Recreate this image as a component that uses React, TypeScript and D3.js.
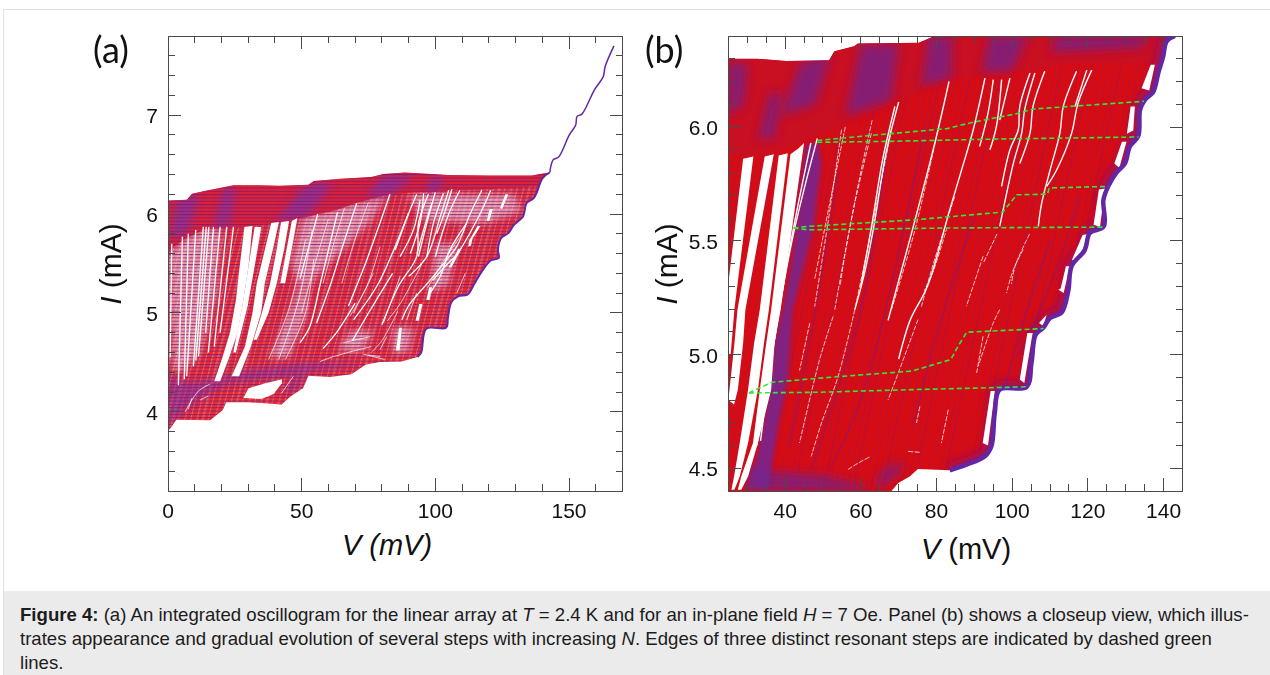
import React from 'react';
import * as d3 from 'd3';

const sans = '"Liberation Sans", Arial, sans-serif';
const purple = '#6326a4';
const tickColor = '#4a4a4a';

// panel (a)
const xMajorA = [0, 50, 100, 150];
const xMinorA = [10, 20, 30, 40, 60, 70, 80, 90, 110, 120, 130, 140, 160];
const yMajorA = [4, 5, 6, 7];
const yMinorA = [3.4, 3.6, 3.8, 4.2, 4.4, 4.6, 4.8, 5.2, 5.4, 5.6, 5.8, 6.2, 6.4, 6.6, 6.8, 7.2, 7.4, 7.6];

const upperEdgeA = [[0, 6.138], [7, 6.145], [9, 6.205], [15, 6.24], [24.5, 6.29], [33.8, 6.29], [41.8, 6.286], [52.5, 6.296], [54.5, 6.333], [64.6, 6.357], [76, 6.374], [80.6, 6.404], [88.6, 6.42], [95.3, 6.41], [104.7, 6.394], [119.4, 6.39], [136, 6.39], [141.4, 6.414], [142.8, 6.42]];
const stairEdgeA = [[142.8, 6.42], [140.1, 6.364], [138.1, 6.23], [136.8, 6.16], [134.1, 6.11], [132.8, 5.976], [129.4, 5.89], [127.4, 5.81], [124.7, 5.76], [123.4, 5.64], [123.7, 5.556], [120.7, 5.53], [117.4, 5.42], [114.7, 5.3], [112, 5.185], [108.7, 5.17], [106, 5.108], [104.7, 4.95], [104, 4.85], [96.6, 4.84], [94.7, 4.6], [93.3, 4.555]];
const lowerEdgeA = [[93.3, 4.555], [87.3, 4.51], [79.3, 4.505], [74, 4.48], [68.6, 4.38], [60.6, 4.353], [52.5, 4.366], [50.5, 4.24], [45.9, 4.158], [42.5, 4.074], [29.8, 4.098], [21.8, 4.098], [20.5, 4.02], [15.8, 3.916], [3.1, 3.92], [1.1, 3.84], [0, 3.81]];
const highBranchA = [[142.8, 6.42], [144.1, 6.55], [146.1, 6.576], [150.1, 6.8], [152.5, 6.9], [153, 6.987], [154.8, 7.01], [159.5, 7.256], [162.8, 7.39], [163.5, 7.49], [166.8, 7.7]];
const zeroBranchA = [[0, 6.14], [0, 3.2]];
const strayA = [[1, 3.42], [3, 3.39], [6, 3.32]];
const bandLowerA = [[0, 5.62], [5.7, 5.74], [13.8, 5.85], [27, 5.87], [41.8, 5.91], [48.5, 5.95], [55, 5.99], [63, 6.04], [70, 6.11], [82, 6.195], [92.6, 6.22], [114, 6.245], [138.8, 6.28]];

const bandPatchesA = [
  [[1, 5.75], [3, 6.13], [12, 6.2], [7, 5.8]],
  [[17, 5.86], [21, 6.26], [25, 6.27], [23, 5.88]],
  [[40, 5.92], [51, 6.28], [62, 6.33], [52, 5.98]],
  [[74, 6.16], [80, 6.38], [92, 6.4], [84, 6.2]],
  [[96, 6.22], [99, 6.38], [103, 6.38], [101, 6.22]],
];
const lowPatchesA = [
  [[0, 3.85], [0, 4.36], [8, 4.3], [18, 4.34], [30, 4.42], [50, 4.49], [75, 4.5], [62, 4.44], [48, 4.37], [22, 4.28], [10, 4.1]],
  [[42, 4.2], [48, 4.35], [52, 4.37], [47, 4.2]],
];
const palePatchesA = [
  [[0, 5.6], [5, 5.72], [13, 5.84], [20, 5.85], [18, 5.2], [12, 4.6], [5, 4.4], [2, 4.4]],
  [[50, 5.97], [70, 6.11], [82, 6.19], [75, 5.9], [60, 5.5], [50, 5.2], [46, 5.5]],
  [[90, 6.2], [130, 6.2], [132, 6.02], [118, 5.9], [95, 5.95]],
  [[100, 5.7], [108, 5.7], [105, 5.3], [98, 5.2]],
  [[84, 4.85], [92, 4.85], [90, 4.6], [84, 4.6]],
  [[68, 4.82], [77, 4.82], [72, 4.6], [64, 4.62]],
  [[53, 5.6], [47, 5.1], [38, 4.55], [45, 4.55], [52, 5]],
];

const gapsA = [
  [[28.6, 5.87], [31.6, 5.88], [30.1, 5.47], [28.2, 5.13], [26, 4.8], [22.6, 4.53], [19.5, 4.31], [17.3, 4.31], [20.1, 4.53], [23.2, 4.8], [25.4, 5.13], [26.8, 5.47]],
  [[32.4, 5.87], [34.9, 5.87], [32.4, 5.47], [29.8, 5.07], [25.4, 4.6], [24.4, 4.6], [27.8, 5.07], [30.1, 5.47]],
  [[38.6, 5.91], [41.5, 5.92], [39.3, 5.65], [36.2, 5.3], [34.8, 5.0], [31, 4.66], [26.6, 4.36], [23.8, 4.36], [28.8, 4.66], [31.6, 5.0], [33.2, 5.3], [36.3, 5.65]],
  [[42.3, 5.92], [45.3, 5.93], [43.5, 5.65], [40.7, 5.3], [37.6, 5.0], [33.2, 4.73], [32, 4.73], [35.1, 5.0], [38.2, 5.3], [40.7, 5.65]],
  [[46.3, 5.93], [48.4, 5.96], [46.3, 5.65], [43.8, 5.3], [42, 5.3], [44.4, 5.65]],
  [[28.2, 4.14], [30.1, 4.24], [36.4, 4.29], [42.6, 4.33], [42.6, 4.29], [39.5, 4.18], [35, 4.13]],
  [[127.3, 6.2], [126.2, 6.2], [124.2, 6.06], [125, 6.05]],
  [[121.5, 6.05], [120.3, 6.05], [119.2, 5.93], [120.2, 5.93]],
  [[116.9, 5.88], [115.8, 5.88], [112.6, 5.73], [112.3, 5.67], [113.3, 5.68], [113.9, 5.75]],
  [[109.8, 5.65], [108.6, 5.65], [105, 5.46], [106, 5.46]],
  [[98.8, 5.26], [97.7, 5.26], [96.6, 5.13], [97.8, 5.13]],
  [[95.2, 5.09], [94, 5.09], [92.6, 4.92], [93.8, 4.92]],
  [[87.5, 4.85], [86.5, 4.85], [85.2, 4.62], [86.6, 4.62]],
];
const whiteLinesA = [
  [[1.4, 5.7], [0.8, 4.55]],
  [[5.4, 5.77], [3.9, 4.27]],
  [[7.6, 5.8], [6.1, 4.33]],
  [[10.4, 5.84], [7, 4.36]],
  [[13.2, 5.87], [9.5, 4.46]],
  [[14.3, 5.87], [10.4, 4.52]],
  [[15.3, 5.87], [11.4, 4.56]],
  [[17, 5.87], [14.1, 4.8]],
  [[19.5, 5.87], [15.1, 4.6]],
  [[22, 5.87], [17.3, 4.66]],
  [[24.5, 5.87], [19.5, 4.8]],
  [[56, 6], [49.4, 5.35]],
  [[63.4, 6.02], [57, 5.3], [53, 4.86], [49.4, 4.7]],
  [[70.6, 6.11], [65.6, 5.7], [61.3, 5.33], [55.6, 4.9]],
  [[83, 6.2], [74.4, 5.54], [67.5, 5.07]],
  [[93, 6.2], [89.9, 6], [83.7, 5.59], [78.1, 5.27], [69.4, 4.93]],
  [[97.4, 6.2], [93.7, 5.91], [93, 5.57], [86.2, 5.27], [80, 4.88]],
  [[100, 6.22], [97.4, 5.97], [93.7, 5.57]],
  [[105, 6.24], [101.8, 5.97], [96.8, 5.57], [90, 5.37]],
  [[109.2, 6.24], [105, 6], [100, 5.57]],
  [[117.4, 6.24], [113, 6], [108, 5.67], [104.3, 5.54], [98, 5.33], [89.9, 5.07], [87.5, 4.93]],
  [[120.7, 6.24], [116.7, 6], [108, 5.59], [104.3, 5.49], [99, 5.33]],
  [[70, 5.1], [63, 4.8], [58, 4.64]],
  [[84, 5.4], [75, 5.0], [69, 4.72]],
  [[90, 6.01], [85, 5.64]],
  [[94.3, 6.14], [91.8, 5.84], [86.8, 5.57]],
  [[95.6, 6.21], [94.3, 5.91], [90.6, 5.6]],
  [[98.7, 6.11], [95.6, 5.84], [93.1, 5.6]],
  [[103, 6.21], [99.3, 5.91], [96.8, 5.57]],
  [[106.2, 6.25], [103, 5.98], [100.5, 5.8]],
  [[111.8, 5.91], [105.5, 5.64], [101.8, 5.37], [98, 5.2]],
];
const fineLinesA = [
  [[62, 4.56], [70, 4.62], [76, 4.66]],
  [[6.4, 4], [11.4, 4.21], [15.7, 4.28]],
  [[7.6, 4.03], [9, 4.14]],
  [[12, 4.12], [15, 4.16]],
  [[42.5, 4.19], [46.9, 4.36]],
  [[95, 5.5], [87, 5.1], [82, 4.92]],
  [[111, 5.84], [103, 5.52], [97, 5.25]],
  [[75, 4.57], [81, 4.53]],
  [[86, 5.02], [80, 4.72], [76, 4.6]],
  [[111.2, 5.4], [108, 5.2]],
  [[79.3, 5.67], [74.4, 5.27], [68.1, 4.97]],
  [[76.8, 5.4], [69.4, 5]],
  [[86.8, 5.37], [80.6, 4.9]],
  [[93, 5.2], [89.3, 4.93]],
  [[81.8, 4.76], [79.3, 4.63]],
  [[65.6, 4.7], [75.6, 4.76]],
  [[56.9, 4.51], [61.9, 4.56]],
  [[73.1, 4.58], [79.3, 4.56]],
  [[53.9, 5.84], [48.9, 5.13], [41.4, 4.53]],
  [[51.4, 5.74], [45.1, 5.03], [37.6, 4.53]],
  [[54.5, 5.54], [51.4, 5], [43.9, 4.53]],
  [[60, 5.95], [55, 5.5], [50, 5.0]],
  [[66, 6.06], [62, 5.7], [58, 5.3]],
  [[75, 6.12], [70, 5.75], [65, 5.3]],
];

// panel (b)
const xMajorB = [40, 60, 80, 100, 120, 140];
const xMinorB = [30, 35, 45, 50, 55, 65, 70, 75, 85, 90, 95, 105, 110, 115, 125, 130, 135];
const yMajorB = [4.5, 5, 5.5, 6];
const yMinorB = [4.6, 4.7, 4.8, 4.9, 5.1, 5.2, 5.3, 5.4, 5.6, 5.7, 5.8, 5.9, 6.1, 6.2, 6.3];

const upperEdgeB = [[24.9, 6.3], [32.7, 6.3], [40.3, 6.29], [51.6, 6.293], [53, 6.333], [58.2, 6.355], [59.2, 6.367], [75.3, 6.37], [79.5, 6.4], [143.3, 6.4]];
const stairEdgeB = [[143, 6.4], [140.8, 6.376], [139.9, 6.31], [138.6, 6.237], [137.3, 6.156], [135.1, 6.12], [133.8, 6.076], [133.3, 5.96], [131.1, 5.915], [129.8, 5.84], [127.6, 5.8], [125.4, 5.74], [124.1, 5.68], [124.2, 5.563], [120.5, 5.534], [119.2, 5.46], [115.7, 5.388], [114.8, 5.278], [113, 5.183], [110, 5.16], [108.2, 5.117], [106.2, 5.087], [105.1, 4.963], [103.8, 4.857], [96.7, 4.846], [95.4, 4.743], [94.5, 4.597], [92.8, 4.553], [87.9, 4.516], [83.5, 4.491]];
const lowerEdgeB = [[83.5, 4.491], [75.1, 4.497], [72.9, 4.464], [69.9, 4.435], [68.1, 4.4], [24.9, 4.4]];
const bandLowerB = [[24.9, 5.87], [34.6, 5.88], [42.2, 5.915], [47.8, 5.96], [58.2, 6.03], [70.5, 6.12], [82.8, 6.21], [96, 6.23], [115, 6.28], [136.7, 6.28]];

const gapsB = [
  [[28.9, 5.86], [31.6, 5.87], [26.6, 5.2], [25.6, 5], [24.9, 5], [24.9, 5.3]],
  [[34.6, 5.87], [37, 5.88], [29.5, 5.197], [28.9, 5.05], [27.5, 4.845], [26.5, 4.78], [25, 4.8], [26.6, 5.05], [27.4, 5.197]],
  [[38.3, 5.875], [40.7, 5.885], [35.7, 5.197], [34.4, 5.05], [32.8, 4.845], [30.2, 4.611], [28, 4.464], [26.6, 4.405], [25.8, 4.405], [26.5, 4.464], [28, 4.611], [30.2, 4.845], [31.8, 5.05], [33.3, 5.197]],
  [[41.4, 5.88], [43.5, 5.905], [45, 5.93], [38.8, 5.197], [37.2, 5.05], [36.3, 4.845], [32.8, 4.611], [30.2, 4.464], [28.4, 4.405], [27.5, 4.405], [28.4, 4.464], [31.5, 4.611], [33.3, 4.845], [35, 5.05], [36.3, 5.197]],
  [[137.7, 6.274], [136.6, 6.274], [134.2, 6.17], [136.2, 6.16]],
  [[132.4, 6.09], [131.3, 6.09], [130.3, 5.97], [132, 5.985]],
  [[130.2, 5.935], [129, 5.935], [127, 5.84], [128.3, 5.82]],
  [[124.5, 5.73], [122.9, 5.725], [121.5, 5.57], [123.2, 5.56]],
  [[120.1, 5.53], [118.6, 5.525], [115.8, 5.417], [117.3, 5.4]],
  [[115.2, 5.388], [114.2, 5.388], [112.8, 5.29], [112.2, 5.285], [113.6, 5.27]],
  [[109.1, 5.175], [107.1, 5.139], [108.2, 5.125]],
  [[105.4, 5.095], [104, 5.095], [102, 4.89], [103.2, 4.875]],
  [[95.4, 4.84], [94.3, 4.84], [92.2, 4.611], [93.6, 4.6]],
];
const whiteLinesB = [
  [[48.5, 5.95], [42.2, 5.53], [37.5, 5.1], [33.5, 4.62]],
  [[46.8, 5.93], [41.8, 5.52], [36.7, 5.02], [32.5, 4.6]],
  [[92.8, 6.215], [89.7, 5.988], [86.6, 5.81], [83.5, 5.637], [77.6, 5.3], [73, 5.15], [70, 4.98]],
  [[70, 6.11], [66.7, 5.89], [63.4, 5.56], [61, 5.36], [58.4, 5.197]],
  [[69, 6.09], [65.8, 5.86], [63, 5.58], [60, 5.3]],
  [[95, 6.208], [93.6, 6.06], [91.4, 5.915]],
  [[97.2, 6.208], [95.8, 6], [94.1, 5.9]],
  [[99.4, 6.215], [96.7, 6.03]],
  [[104.7, 6.237], [102, 6.09], [101.6, 5.988], [99.4, 5.9], [97.2, 5.739]],
  [[106, 6.237], [103.3, 6.076], [102.5, 5.973], [100.3, 5.84], [96.7, 5.563]],
  [[108.6, 6.245], [105.5, 6.09], [104.7, 5.973], [102, 5.84]],
  [[117, 6.245], [113.5, 6.09], [112.6, 5.973], [110, 5.81], [107.8, 5.666], [106.9, 5.563]],
  [[121, 6.25], [117.4, 6.105], [115.7, 5.973], [111.7, 5.81], [109.1, 5.739]],
  [[119.7, 6.25], [116.6, 6.09]],
  [[83.3, 6.2], [80, 5.96], [74.3, 5.59], [69.6, 5.3], [67.2, 5.15]],
];
const fineLinesB = [
  [[55.9, 6], [51.6, 5.65], [47.8, 5.33]],
  [[63, 6.03], [60.1, 5.81], [55.9, 5.45], [54.5, 5.3]],
  [[104.6, 5.53], [100.8, 5.39], [99.8, 5.31]],
  [[96, 5.53], [92.3, 5.4]],
  [[82.8, 5.56], [79, 5.36], [76.7, 5.28]],
  [[75.1, 5.153], [69.9, 4.919], [67.2, 4.8]],
  [[46.5, 5.138], [43.8, 4.93]],
  [[52.7, 5.168], [49.1, 4.977], [43.8, 4.611]],
  [[58.4, 5.197], [54, 4.904], [49.6, 4.699], [46.9, 4.552]],
  [[83.1, 4.757], [81.3, 4.611]],
  [[75.6, 4.772], [74.7, 4.699]],
  [[92.3, 5.432], [87.9, 5.212]],
  [[102.9, 5.461], [100.3, 5.373], [98.5, 5.27]],
  [[96.7, 5.197], [95, 5.139], [91, 4.948]],
  [[92.3, 5.08], [90.6, 4.919]],
  [[56.6, 4.494], [59, 4.52], [62.4, 4.55]],
  [[72.5, 4.574], [75.6, 4.57]],
  [[68.1, 5.988], [62.8, 5.548], [58.4, 5.197]],
  [[62.8, 5.973], [58.4, 5.666], [53.1, 5.197]],
  [[80.4, 5.988], [74.3, 5.548], [68.1, 5.197]],
  [[84.8, 5.695], [78.7, 5.373], [76, 5.21]],
  [[54.9, 5.988], [51.3, 5.578], [47.8, 5.21]],
];
const purpleZoneB = [[48.7, 5.936], [45.6, 5.915], [41.6, 5.4], [39.4, 5.197], [37.2, 5.05], [35, 4.757], [32.4, 4.538], [29.3, 4.405], [35.5, 4.405], [38.1, 4.684], [40.8, 4.904], [42, 5.197], [47.4, 5.548], [49.6, 5.84]];
const purpleBlobsB = [
  [[64.6, 4.464], [68.1, 4.516], [71.6, 4.523], [69.9, 4.479], [67.2, 4.435], [63.7, 4.42]],
  [[29.3, 4.494], [50, 4.47], [62, 4.42], [60, 4.4], [35, 4.4]],
  [[25, 6.05], [25, 6.28], [30, 6.28], [29, 6.1]],
  [[33, 5.95], [36, 6.15], [39, 6.15], [37, 5.95]],
  [[39, 6.05], [44, 6.28], [52, 6.32], [48, 6.1]],
  [[56, 6.05], [60, 6.36], [70, 6.36], [68, 6.12]],
  [[76, 6.18], [78, 6.4], [84, 6.4], [84, 6.22]],
  [[92, 6.24], [94, 6.4], [104, 6.4], [100, 6.25]],
  [[110, 6.33], [112, 6.4], [136, 6.4], [134, 6.35]],
];
const purpleStreaksB = [
  [[67, 5.9], [60, 5.2], [52, 4.75], [47, 4.5]],
  [[77, 6], [68, 5.3], [60, 4.8], [52, 4.5]],
  [[90, 5.6], [82, 5.2], [74, 4.7]],
  [[54, 5.8], [47, 5.1], [41, 4.6]],
  [[110, 5.5], [103, 5.15], [98, 4.85]],
  [[118, 5.7], [110, 5.3], [102, 5]],
];

const greenLowerB1 = [[48.5, 5.933], [67.7, 5.937], [96, 5.947], [133.4, 5.956]];
const greenUpperB1 = [[48.5, 5.941], [62, 5.962], [82.8, 5.993], [89.9, 6.022], [100.8, 6.057], [105.5, 6.079], [134.8, 6.113]];
const greenLowerB2 = [[42.2, 5.556], [46, 5.548], [82.8, 5.556], [123.9, 5.56]];
const greenUpperB2 = [[42.2, 5.556], [46, 5.563], [74.3, 5.592], [97.5, 5.626], [101.2, 5.702], [109.3, 5.705], [109.8, 5.732], [125.4, 5.739]];
const greenLowerB3 = [[30.4, 4.831], [48.8, 4.834], [67.7, 4.843], [103.6, 4.858]];
const greenUpperB3 = [[30.4, 4.831], [36.5, 4.878], [53.5, 4.902], [73.4, 4.927], [83.8, 4.978], [85.7, 5.037], [88, 5.098], [108.3, 5.114]];

const caption = [
  [['Figure 4:', 'b'], [' (a) An integrated oscillogram for the linear array at ', ''], ['T', 'i'], [' = 2.4 K and for an in-plane field ', ''], ['H', 'i'], [' = 7 Oe. Panel (b) shows a closeup view, which illus-', '']],
  [['trates appearance and gradual evolution of several steps with increasing ', ''], ['N', 'i'], ['. Edges of three distinct resonant steps are indicated by dashed green', '']],
  [['lines.', '']],
];

type Pts = number[][];

function Frame({ x, y, xMajor, xMinor, yMajor, yMinor, fmt }: any) {
  const [x0, x1] = x.range();
  const [y1, y0] = y.range();
  const seg = (k: string, a: number, b: number, c: number, d: number) => (
    <line key={k} x1={a} y1={b} x2={c} y2={d} />
  );
  return (
    <g>
      <g stroke={tickColor} strokeWidth={1} shapeRendering="crispEdges">
        {xMajor.map((v: number) => seg(`xb${v}`, x(v), y1, x(v), y1 - 13))}
        {xMajor.map((v: number) => seg(`xt${v}`, x(v), y0, x(v), y0 + 13))}
        {xMinor.map((v: number) => seg(`xbm${v}`, x(v), y1, x(v), y1 - 7))}
        {xMinor.map((v: number) => seg(`xtm${v}`, x(v), y0, x(v), y0 + 7))}
        {yMajor.map((v: number) => seg(`yl${v}`, x0, y(v), x0 + 13, y(v)))}
        {yMajor.map((v: number) => seg(`yr${v}`, x1, y(v), x1 - 13, y(v)))}
        {yMinor.map((v: number) => seg(`ylm${v}`, x0, y(v), x0 + 7, y(v)))}
        {yMinor.map((v: number) => seg(`yrm${v}`, x1, y(v), x1 - 7, y(v)))}
        <rect x={x0} y={y0} width={x1 - x0} height={y1 - y0} fill="none" />
      </g>
      <g fontFamily={sans} fontSize={21} fill="#111">
        {xMajor.map((v: number) => (
          <text key={v} x={x(v)} y={y1 + 27} textAnchor="middle">{v}</text>
        ))}
        {yMajor.map((v: number) => (
          <text key={v} x={x0 - 10} y={y(v) + 8} textAnchor="end">{fmt(v)}</text>
        ))}
      </g>
    </g>
  );
}

// thin irregular strands leaning like the sweeps, laid over the filled body
function Strands({ id, color, angle, opacity }: any) {
  return (
    <pattern id={id} width={29} height={40} patternUnits="userSpaceOnUse" patternTransform={`rotate(${angle})`}>
      <rect x={2} width={1.2} height={40} fill={color} opacity={opacity} />
      <rect x={7} width={2.4} height={40} fill={color} opacity={opacity * 0.7} />
      <rect x={13} width={0.8} height={40} fill={color} opacity={opacity} />
      <rect x={19} width={1.8} height={40} fill={color} opacity={opacity * 0.6} />
      <rect x={25} width={1} height={40} fill={color} opacity={opacity} />
    </pattern>
  );
}

function PanelA() {
  const x = d3.scaleLinear().domain([0, 170]).range([168, 622.5]);
  const y = d3.scaleLinear().domain([3.2, 7.8]).range([491, 36]);
  const line = d3.line<number[]>().x(d => x(d[0])).y(d => y(d[1]));
  const smooth = d3.line<number[]>().x(d => x(d[0])).y(d => y(d[1])).curve(d3.curveCatmullRom);
  const poly = (p: Pts) => line(p) + 'Z';
  const envelope = line(upperEdgeA) + 'L' + smooth(stairEdgeA)!.slice(1) + 'L' + line(lowerEdgeA.slice(1))!.slice(1) + 'Z';
  const band = poly([...upperEdgeA, ...bandLowerA.slice().reverse()]);
  return (
    <g>
      <defs>
        <clipPath id="plotA"><rect x={168} y={36} width={454.5} height={455} /></clipPath>
        <clipPath id="envA"><path d={envelope} /></clipPath>
        <pattern id="scanA" width={8} height={3.33} patternUnits="userSpaceOnUse" y={1}>
          <rect width={8} height={1} fill="#6a1a78" fillOpacity={0.75} />
        </pattern>
        <Strands id="strandA" color="#fff" angle={14} opacity={0.3} />
        <filter id="softA"><feGaussianBlur stdDeviation={3.5} /></filter>
      </defs>
      <g clipPath="url(#plotA)">
        <path d={envelope} fill="#ea2c34" />
        <g clipPath="url(#envA)">
          <g filter="url(#softA)" opacity={0.72}>
            {palePatchesA.map((p, i) => <path key={i} d={poly(p)} fill="#f2c0d2" />)}
          </g>
          <path d={envelope} fill="url(#strandA)" />
          <path d={band} fill="#de2238" />
          <g filter="url(#softA)">
            {bandPatchesA.map((p, i) => <path key={i} d={poly(p)} fill="#7038c0" opacity={0.6} />)}
            {lowPatchesA.map((p, i) => <path key={i} d={poly(p)} fill="#7038c0" opacity={0.5} />)}
          </g>
          <path d={envelope} fill="url(#scanA)" />
        </g>
        <g fill="#fff">
          {gapsA.map((p, i) => <path key={i} d={poly(p)} />)}
        </g>
        <g fill="none" stroke="#fff">
          {whiteLinesA.map((p, i) => <path key={i} d={smooth(p)!} strokeWidth={1.3} />)}
          {fineLinesA.map((p, i) => <path key={i} d={smooth(p)!} strokeWidth={0.9} strokeOpacity={0.8} />)}
        </g>
        <path d={smooth(stairEdgeA)!} fill="none" stroke={purple} strokeWidth={2} />
        <path d={smooth(highBranchA)!} fill="none" stroke={purple} strokeWidth={1.5} />
        <path d={line(zeroBranchA)!} fill="none" stroke="#5a4fd0" strokeWidth={1.5} />
        <path d={line(strayA)!} fill="none" stroke="#f4c0c8" strokeWidth={1} strokeDasharray="1 2" />
      </g>
      <Frame x={x} y={y} xMajor={xMajorA} xMinor={xMinorA} yMajor={yMajorA} yMinor={yMinorA} fmt={(v: number) => String(v)} />
      <text x={93} y={63} fontFamily="Lato, sans-serif" fontSize={36} fill="#111">(a)</text>
      <text transform="translate(121,264) rotate(-90)" fontFamily={sans} fontSize={30} textAnchor="middle" fill="#111">
        <tspan fontStyle="italic">I</tspan> (mA)
      </text>
      <text x={387} y={555} fontFamily={sans} fontSize={29} fontStyle="italic" textAnchor="middle" fill="#111">V (mV)</text>
    </g>
  );
}

function PanelB() {
  const x = d3.scaleLinear().domain([24.9, 145]).range([728, 1182.5]);
  const y = d3.scaleLinear().domain([4.4, 6.4]).range([491, 36]);
  const line = d3.line<number[]>().x(d => x(d[0])).y(d => y(d[1]));
  const smooth = d3.line<number[]>().x(d => x(d[0])).y(d => y(d[1])).curve(d3.curveCatmullRom);
  const poly = (p: Pts) => line(p) + 'Z';
  const envelope = line([...upperEdgeB]) + 'L' + smooth(stairEdgeB)!.slice(1) + 'L' + line(lowerEdgeB.slice(1))!.slice(1) + 'Z';
  const band = poly([...upperEdgeB, ...bandLowerB.slice().reverse()]);
  const greens = [greenLowerB1, greenUpperB1, greenLowerB2, greenUpperB2, greenLowerB3, greenUpperB3];
  return (
    <g>
      <defs>
        <clipPath id="plotB"><rect x={728} y={36} width={454.5} height={455} /></clipPath>
        <clipPath id="envB"><path d={envelope} /></clipPath>
        <Strands id="strandB" color="#6a1a98" angle={12} opacity={0.3} />
        <filter id="softB"><feGaussianBlur stdDeviation={5} /></filter>
        <filter id="softC"><feGaussianBlur stdDeviation={2} /></filter>
      </defs>
      <g clipPath="url(#plotB)">
        <path d={envelope} fill="#d80c10" />
        <g clipPath="url(#envB)">
          <path d={envelope} fill="url(#strandB)" />
          <path d={band} fill="#c90f22" />
          <g filter="url(#softB)">
            {purpleBlobsB.map((p, i) => <path key={i} d={poly(p)} fill="#5a2aa8" opacity={0.6} />)}
            <path d={smooth(stairEdgeB)!} fill="none" stroke="#7a1688" strokeWidth={14} opacity={0.6} />
          </g>
          <path d={poly(purpleZoneB)} fill="#722694" opacity={0.85} filter="url(#softC)" />
          <g fill="none" stroke="#7a1a88" strokeWidth={2} opacity={0.4}>
            {purpleStreaksB.map((p, i) => <path key={i} d={smooth(p)!} />)}
          </g>
        </g>
        <g fill="#fff">
          {gapsB.map((p, i) => <path key={i} d={poly(p)} />)}
        </g>
        <g fill="none" stroke="#fff">
          {whiteLinesB.map((p, i) => <path key={i} d={smooth(p)!} strokeWidth={1.4} />)}
          {fineLinesB.map((p, i) => <path key={i} d={smooth(p)!} strokeWidth={1} strokeOpacity={0.75} strokeDasharray="5 1.5" />)}
        </g>
        <path d={smooth(stairEdgeB)!} fill="none" stroke={purple} strokeWidth={4.5} />
        <g fill="none" stroke="#35e63a" strokeWidth={1.6} strokeDasharray="5 3">
          {greens.map((p, i) => <path key={i} d={line(p)!} />)}
        </g>
      </g>
      <Frame x={x} y={y} xMajor={xMajorB} xMinor={xMinorB} yMajor={yMajorB} yMinor={yMinorB} fmt={d3.format('.1f')} />
      <text x={645} y={63} fontFamily="Lato, sans-serif" fontSize={36} fill="#111">(b)</text>
      <text transform="translate(677,264) rotate(-90)" fontFamily={sans} fontSize={30} textAnchor="middle" fill="#111">
        <tspan fontStyle="italic">I</tspan> (mA)
      </text>
      <text x={966} y={559} fontFamily={sans} fontSize={29} textAnchor="middle" fill="#111">
        <tspan fontStyle="italic">V</tspan> (mV)
      </text>
    </g>
  );
}

export default function App() {
  return (
    <svg width={1270} height={675} style={{ position: 'absolute', left: 0, top: 0, display: 'block' }}>
      <rect x={0} y={0} width={1270} height={675} fill="#fff" />
      <rect x={3.5} y={9.5} width={1270} height={670} fill="#fff" stroke="#e2e2e2" />
      <rect x={4} y={591} width={1266} height={84} fill="#ebebeb" />
      <PanelA />
      <PanelB />
      <g fontFamily={sans} fontSize={18.6} fill="#1c1c1c">
        {caption.map((row, i) => (
          <text key={i} x={20} y={621 + i * 24}>
            {row.map(([t, s], j) => (
              <tspan key={j} fontWeight={s === 'b' ? 'bold' : 'normal'} fontStyle={s === 'i' ? 'italic' : 'normal'}>{t}</tspan>
            ))}
          </text>
        ))}
      </g>
    </svg>
  );
}
